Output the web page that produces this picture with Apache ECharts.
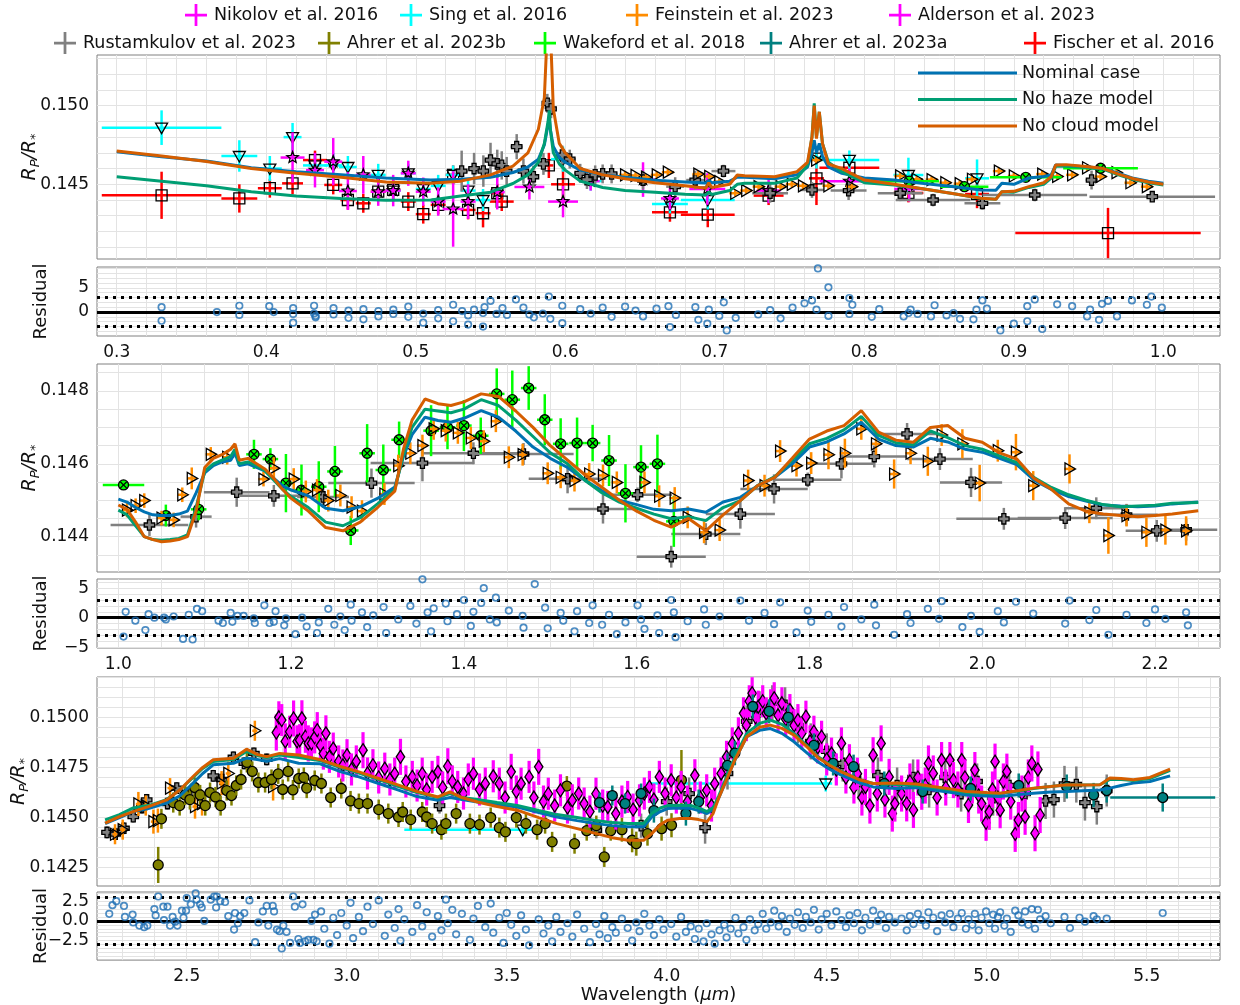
<!DOCTYPE html>
<html>
<head>
<meta charset="utf-8">
<title>Transmission spectrum fit</title>
<script src="https://cdn.jsdelivr.net/npm/echarts@6/dist/echarts.min.js"></script>
<style>html,body{margin:0;padding:0;background:#fff}#chart{width:1240px;height:1005px}</style>
</head>
<body>
<div id="chart"></div>
<script>
const FONT = 'DejaVu Sans';

// ---- tick labels ----
const x1Ticks = [0.3, 0.4, 0.5, 0.6, 0.7, 0.8, 0.9, 1.0];
const y1Ticks = [0.145, 0.150];
const r1Ticks = [0, 5];
const x2Ticks = [1.0, 1.2, 1.4, 1.6, 1.8, 2.0, 2.2];
const y2Ticks = [0.144, 0.146, 0.148];
const r2Ticks = [-5, 0, 5];
const x3Ticks = [2.5, 3.0, 3.5, 4.0, 4.5, 5.0, 5.5];
const y3Ticks = [0.1425, 0.1450, 0.1475, 0.1500];
const r3Ticks = [-2.5, 0, 2.5];

// ---- models, panel 1 ----
const p1Wave = [0.3,0.33,0.36,0.39,0.42,0.45,0.48,0.51,0.53,0.55,0.565,0.575,0.582,0.586,0.5885,0.5893,0.590,0.592,0.596,0.60,0.61,0.625,0.64,0.66,0.68,0.694,0.696,0.698,0.71,0.715,0.72,0.74,0.755,0.762,0.765,0.7665,0.768,0.7699,0.772,0.776,0.785,0.80,0.82,0.84,0.86,0.878,0.888,0.892,0.90,0.91,0.92,0.925,0.928,0.935,0.95,0.96,0.97,0.98,0.99,1.0];
const p1Nominal = [0.14707,0.14675,0.14648,0.14605,0.14580,0.14560,0.14540,0.14527,0.14532,0.14545,0.14575,0.14610,0.14660,0.14750,0.14880,0.14920,0.14850,0.14740,0.14670,0.14640,0.14590,0.14560,0.14545,0.14525,0.14515,0.14508,0.14525,0.14510,0.14520,0.14545,0.14545,0.14535,0.14560,0.14610,0.14700,0.14780,0.14700,0.14760,0.14680,0.14610,0.14570,0.14540,0.14527,0.14505,0.14485,0.14464,0.14462,0.14506,0.14500,0.14540,0.14550,0.14560,0.14623,0.14620,0.14610,0.14600,0.14570,0.14538,0.14520,0.14506];
const p1NoHaze = [0.14548,0.14520,0.14490,0.14453,0.14425,0.14410,0.14398,0.14400,0.14425,0.14450,0.14505,0.14560,0.14640,0.14760,0.14900,0.14970,0.14850,0.14700,0.14630,0.14590,0.14520,0.14480,0.14460,0.14450,0.14436,0.14432,0.14450,0.14435,0.14460,0.14500,0.14506,0.14506,0.14540,0.14620,0.14800,0.15015,0.14800,0.14960,0.14760,0.14640,0.14580,0.14510,0.14495,0.14470,0.14440,0.14411,0.14405,0.14453,0.14450,0.14480,0.14500,0.14540,0.14615,0.14615,0.14605,0.14595,0.14560,0.14530,0.14510,0.14495];
const p1NoCloud = [0.14712,0.14680,0.14645,0.14600,0.14570,0.14545,0.14515,0.14506,0.14520,0.14560,0.14615,0.14700,0.14850,0.15050,0.15600,0.16000,0.15500,0.14980,0.14760,0.14700,0.14600,0.14560,0.14535,0.14510,0.14490,0.14475,0.14510,0.14480,0.14500,0.14559,0.14555,0.14548,0.14580,0.14640,0.14800,0.15000,0.14790,0.14961,0.14760,0.14630,0.14600,0.14527,0.14500,0.14470,0.14440,0.14411,0.14405,0.14453,0.14455,0.14485,0.14510,0.14548,0.14623,0.14625,0.14612,0.14600,0.14565,0.14535,0.14515,0.14500];

// ---- models, panel 2 ----
const p2Wave = [1.0,1.01,1.02,1.03,1.04,1.05,1.06,1.07,1.08,1.09,1.10,1.11,1.12,1.13,1.135,1.14,1.15,1.16,1.17,1.18,1.19,1.2,1.22,1.24,1.26,1.28,1.30,1.32,1.33,1.34,1.355,1.37,1.385,1.40,1.42,1.44,1.46,1.48,1.50,1.52,1.54,1.56,1.58,1.60,1.62,1.64,1.66,1.68,1.70,1.72,1.74,1.76,1.78,1.80,1.82,1.84,1.86,1.88,1.90,1.92,1.94,1.96,1.98,2.0,2.02,2.04,2.06,2.08,2.10,2.12,2.14,2.16,2.18,2.2,2.22,2.25];
const p2Nominal = [0.14503,0.14495,0.14480,0.14468,0.14460,0.14458,0.14458,0.14462,0.14470,0.14520,0.14575,0.14595,0.14605,0.14610,0.14630,0.14595,0.14600,0.14590,0.14580,0.14560,0.14540,0.14528,0.14512,0.14478,0.14471,0.14482,0.14505,0.14536,0.14620,0.14680,0.14728,0.14719,0.14714,0.14725,0.14746,0.14728,0.14690,0.14646,0.14615,0.14590,0.14555,0.14526,0.14500,0.14488,0.14475,0.14471,0.14476,0.14467,0.14495,0.14508,0.14540,0.14563,0.14600,0.14646,0.14660,0.14682,0.14714,0.14668,0.14650,0.14646,0.14670,0.14660,0.14640,0.14632,0.14615,0.14598,0.14555,0.14530,0.14510,0.14498,0.14487,0.14484,0.14482,0.14484,0.14490,0.14495];
const p2NoHaze = [0.14473,0.14460,0.14430,0.14400,0.14392,0.14390,0.14392,0.14395,0.14405,0.14480,0.14580,0.14600,0.14610,0.14620,0.14640,0.14600,0.14605,0.14595,0.14580,0.14555,0.14530,0.14510,0.14480,0.14440,0.14430,0.14452,0.14490,0.14530,0.14625,0.14700,0.14750,0.14745,0.14740,0.14750,0.14776,0.14760,0.14720,0.14675,0.14630,0.14600,0.14555,0.14520,0.14495,0.14478,0.14462,0.14449,0.14455,0.14444,0.14480,0.14499,0.14540,0.14565,0.14610,0.14655,0.14670,0.14693,0.14730,0.14678,0.14658,0.14652,0.14690,0.14672,0.14650,0.14640,0.14622,0.14603,0.14562,0.14535,0.14515,0.14500,0.14488,0.14482,0.14484,0.14486,0.14492,0.14494];
const p2NoCloud = [0.14487,0.14475,0.14440,0.14400,0.14392,0.14386,0.14388,0.14392,0.14400,0.14470,0.14590,0.14615,0.14625,0.14640,0.14655,0.14610,0.14615,0.14600,0.14585,0.14560,0.14530,0.14505,0.14470,0.14425,0.14416,0.14440,0.14480,0.14525,0.14640,0.14720,0.14778,0.14765,0.14760,0.14770,0.14792,0.14785,0.14745,0.14700,0.14650,0.14610,0.14570,0.14535,0.14500,0.14470,0.14445,0.14426,0.14450,0.14416,0.14460,0.14499,0.14540,0.14563,0.14615,0.14668,0.14690,0.14705,0.14746,0.14687,0.14665,0.14659,0.14700,0.14705,0.14670,0.14659,0.14630,0.14613,0.14560,0.14530,0.14490,0.14470,0.14462,0.14458,0.14455,0.14458,0.14462,0.14471];

// ---- models, panel 3 ----
const p3Wave = [2.245,2.29,2.333,2.38,2.4375,2.48,2.52,2.55,2.583,2.646,2.687,2.72,2.75,2.79,2.85,2.915,2.98,3.038,3.10,3.162,3.22,3.285,3.323,3.36,3.409,3.47,3.533,3.60,3.657,3.72,3.78,3.83,3.879,3.928,3.953,3.98,4.0025,4.04,4.077,4.10,4.126,4.145,4.163,4.19,4.2125,4.25,4.29,4.324,4.36,4.398,4.44,4.472,4.51,4.546,4.60,4.645,4.719,4.78,4.833,4.89,4.9375,5.0,5.0416,5.10,5.146,5.20,5.25,5.30,5.354,5.385,5.42,5.458,5.51,5.573];
const p3Nominal = [0.14470,0.14500,0.14530,0.14545,0.14572,0.14610,0.14672,0.14720,0.14763,0.14771,0.14797,0.14790,0.14781,0.14794,0.14771,0.14769,0.14730,0.14703,0.14670,0.14637,0.14605,0.14587,0.14600,0.14590,0.14578,0.14565,0.14553,0.14525,0.14503,0.14485,0.14470,0.14460,0.14454,0.14454,0.14503,0.14530,0.14545,0.14548,0.14545,0.14535,0.14520,0.14540,0.14600,0.14700,0.14786,0.14903,0.14935,0.14944,0.14920,0.14878,0.14820,0.14778,0.14740,0.14712,0.14675,0.14653,0.14645,0.14650,0.14638,0.14625,0.14613,0.14608,0.14605,0.14615,0.14622,0.14628,0.14630,0.14634,0.14638,0.14647,0.14660,0.14672,0.14680,0.14708];
const p3NoHaze = [0.14489,0.14515,0.14548,0.14560,0.14590,0.14640,0.14700,0.14745,0.14780,0.14790,0.14830,0.14810,0.14800,0.14812,0.14800,0.14785,0.14750,0.14722,0.14690,0.14655,0.14625,0.14600,0.14620,0.14600,0.14590,0.14575,0.14560,0.14535,0.14515,0.14500,0.14485,0.14475,0.14470,0.14470,0.14520,0.14548,0.14560,0.14562,0.14560,0.14548,0.14530,0.14550,0.14610,0.14715,0.14800,0.14920,0.14970,0.14986,0.14965,0.14920,0.14855,0.14805,0.14765,0.14730,0.14690,0.14670,0.14665,0.14660,0.14650,0.14638,0.14625,0.14620,0.14620,0.14632,0.14645,0.14655,0.14664,0.14662,0.14664,0.14690,0.14690,0.14685,0.14695,0.14735];
const p3NoCloud = [0.14472,0.14505,0.14530,0.14555,0.14588,0.14640,0.14705,0.14750,0.14788,0.14796,0.14841,0.14815,0.14804,0.14820,0.14812,0.14790,0.14755,0.14728,0.14695,0.14662,0.14630,0.14603,0.14628,0.14600,0.14578,0.14555,0.14537,0.14500,0.14470,0.14445,0.14420,0.14400,0.14387,0.14387,0.14420,0.14465,0.14487,0.14495,0.14495,0.14490,0.14480,0.14520,0.14600,0.14700,0.14786,0.14903,0.14950,0.14961,0.14945,0.14911,0.14850,0.14800,0.14760,0.14728,0.14690,0.14670,0.14672,0.14668,0.14655,0.14642,0.14630,0.14625,0.14622,0.14635,0.14647,0.14655,0.14664,0.14662,0.14664,0.14697,0.14695,0.14689,0.14700,0.14742];

// ---- observations: [wavelength, Rp/Rs, xerr, yerr, (xerr right)] ----
const fischerP1 = [[0.330,0.1443,0.040,0.0015],[0.382,0.1441,0.012,0.0009],[0.4024,0.14475,0.008,0.0006],[0.4176,0.14506,0.007,0.0007],[0.4326,0.14654,0.008,0.0006],[0.4448,0.14496,0.006,0.0006],[0.4546,0.1440,0.005,0.0006],[0.4649,0.14379,0.005,0.0006],[0.4749,0.14453,0.005,0.0006],[0.4849,0.14464,0.005,0.0006],[0.495,0.1439,0.005,0.0006],[0.505,0.1431,0.005,0.0006],[0.515,0.14369,0.005,0.0006],[0.525,0.1456,0.005,0.0006],[0.535,0.14337,0.005,0.0006],[0.545,0.14316,0.005,0.0009],[0.5545,0.14443,0.004,0.0006],[0.5575,0.1439,0.008,0.0006],[0.589,0.1462,0.003,0.0008],[0.5985,0.1450,0.008,0.0011],[0.670,0.14322,0.012,0.0006],[0.6953,0.14307,0.018,0.0008],[0.736,0.14428,0.010,0.0006],[0.768,0.14538,0.005,0.0017],[0.790,0.14605,0.020,0.0006],[0.8295,0.14445,0.010,0.0006],[0.8754,0.14438,0.008,0.0009],[0.963,0.1419,0.062,0.0016]];
const nikolovP1 = [[0.4176,0.1467,0.008,0.0016],[0.4326,0.1459,0.006,0.0011],[0.4448,0.14644,0.006,0.0015],[0.4546,0.14457,0.006,0.0012],[0.4649,0.1456,0.005,0.0012],[0.4749,0.14453,0.005,0.0009],[0.4849,0.1446,0.005,0.0010],[0.495,0.1457,0.005,0.0008],[0.505,0.14453,0.005,0.0009],[0.515,0.1439,0.005,0.0009],[0.525,0.14343,0.007,0.0024],[0.535,0.1439,0.005,0.0011],[0.5545,0.1445,0.005,0.0011],[0.576,0.14483,0.010,0.0008],[0.5985,0.1439,0.010,0.0010],[0.617,0.1452,0.006,0.0006],[0.652,0.1453,0.008,0.0011],[0.670,0.1441,0.006,0.0007],[0.695,0.1447,0.012,0.0010],[0.736,0.1446,0.008,0.0008],[0.790,0.1452,0.020,0.0008],[0.830,0.1447,0.010,0.0008]];
const singP1 = [[0.330,0.1486,0.040,0.0011],[0.382,0.1468,0.012,0.0010],[0.4024,0.1460,0.008,0.0008],[0.4176,0.1480,0.006,0.0009],[0.4326,0.1462,0.008,0.0006],[0.4448,0.1462,0.006,0.0008],[0.4546,0.1461,0.006,0.0007],[0.4749,0.1456,0.005,0.0007],[0.4849,0.1446,0.005,0.0007],[0.495,0.1457,0.005,0.0006],[0.505,0.1447,0.005,0.0007],[0.515,0.1449,0.005,0.0007],[0.525,0.1456,0.005,0.0006],[0.535,0.1446,0.005,0.0007],[0.545,0.1440,0.005,0.0007],[0.5985,0.1466,0.008,0.0008],[0.617,0.1452,0.008,0.0006],[0.670,0.14375,0.012,0.0006],[0.6953,0.1440,0.018,0.0006],[0.768,0.1467,0.005,0.0007],[0.790,0.14655,0.020,0.0006],[0.8295,0.14559,0.010,0.0011],[0.8754,0.14538,0.008,0.0012]];
const rustamP1 = [[0.5307,0.14584,0.004,0.0013],[0.539,0.14600,0.004,0.0010],[0.5452,0.14584,0.004,0.0010],[0.550,0.14654,0.004,0.0011],[0.5545,0.14630,0.003,0.0009],[0.5575,0.14620,0.003,0.0009],[0.5608,0.14584,0.003,0.0009],[0.5675,0.14739,0.004,0.0008],[0.572,0.14584,0.003,0.0008],[0.5787,0.14548,0.003,0.0007],[0.5854,0.14630,0.003,0.0007],[0.5880,0.15015,0.002,0.0006],[0.5905,0.14980,0.002,0.0006],[0.598,0.14686,0.004,0.0006],[0.603,0.14660,0.004,0.0006],[0.610,0.14570,0.004,0.0006],[0.6145,0.14530,0.004,0.0006],[0.620,0.14560,0.004,0.0006],[0.625,0.14566,0.004,0.0006],[0.631,0.14566,0.004,0.0006],[0.652,0.14527,0.006,0.0006],[0.6735,0.14485,0.006,0.0006],[0.6869,0.14527,0.006,0.0006],[0.7058,0.14584,0.008,0.0004],[0.737,0.14443,0.012,0.0006],[0.765,0.14464,0.008,0.0005],[0.7895,0.14460,0.012,0.0006],[0.824,0.14443,0.015,0.0005],[0.846,0.14400,0.025,0.0004],[0.879,0.14379,0.012,0.0004],[0.914,0.14432,0.035,0.0004],[0.952,0.14527,0.004,0.0006],[0.9926,0.14421,0.042,0.0003]];
const feinsteinP1 = [[0.640,0.14560,0.004,0.0002],[0.647,0.14556,0.004,0.0002],[0.654,0.14545,0.004,0.0002],[0.6612,0.14560,0.004,0.0002],[0.6686,0.14577,0.004,0.0002],[0.689,0.14565,0.004,0.0002],[0.6963,0.14550,0.004,0.0002],[0.703,0.14517,0.004,0.0002],[0.7137,0.14443,0.004,0.0002],[0.721,0.14460,0.004,0.0002],[0.7293,0.14485,0.004,0.0002],[0.744,0.14485,0.004,0.0002],[0.7515,0.14500,0.004,0.0002],[0.759,0.14490,0.004,0.0002],[0.7678,0.14654,0.004,0.0002],[0.776,0.14490,0.004,0.0002],[0.7917,0.14485,0.004,0.0002],[0.824,0.14553,0.004,0.0002],[0.835,0.14532,0.004,0.0002],[0.845,0.14530,0.004,0.0002],[0.8542,0.14510,0.004,0.0002],[0.8638,0.14504,0.004,0.0002],[0.872,0.14532,0.004,0.0002],[0.890,0.14584,0.004,0.0002],[0.900,0.14553,0.004,0.0002],[0.919,0.14565,0.004,0.0002],[0.929,0.14550,0.004,0.0002],[0.939,0.14560,0.004,0.0002],[0.949,0.14605,0.004,0.0002],[0.958,0.14549,0.004,0.0002],[0.9687,0.14574,0.004,0.0002],[0.978,0.14510,0.004,0.0002],[0.989,0.14485,0.004,0.0002]];
const wakefordP1 = [[0.830,0.14520,0.020,0.0002],[0.867,0.14485,0.016,0.0002],[0.908,0.14544,0.024,0.0002],[0.958,0.14602,0.025,0.0002]];

const wakefordP2 = [[1.006,0.14542,0.024,0.0001],[1.055,0.14458,0.009,0.0003],[1.093,0.14475,0.009,0.0003],[1.157,0.14626,0.009,0.0004],[1.176,0.14613,0.009,0.0003],[1.194,0.14547,0.009,0.0008],[1.212,0.14528,0.009,0.0007],[1.232,0.14537,0.009,0.0007],[1.2507,0.14579,0.009,0.0007],[1.269,0.14417,0.009,0.0004],[1.288,0.14629,0.009,0.0008],[1.3067,0.14583,0.009,0.0007],[1.325,0.14666,0.009,0.0005],[1.362,0.14691,0.009,0.0007],[1.381,0.14700,0.009,0.0006],[1.400,0.14705,0.009,0.0007],[1.4195,0.14677,0.009,0.0005],[1.438,0.14792,0.009,0.0007],[1.456,0.14776,0.009,0.0008],[1.475,0.14808,0.009,0.0006],[1.4936,0.14721,0.009,0.0007],[1.512,0.14655,0.009,0.0007],[1.531,0.14657,0.009,0.0007],[1.549,0.14657,0.009,0.0005],[1.568,0.14609,0.009,0.0007],[1.587,0.14519,0.009,0.0008],[1.605,0.14591,0.009,0.0006],[1.624,0.14600,0.009,0.0008],[1.643,0.14442,0.009,0.0007]];
const feinsteinP2 = [[1.010,0.14473,0.005,0.0002],[1.020,0.14485,0.005,0.0002],[1.030,0.14499,0.005,0.0002],[1.050,0.14451,0.005,0.0002],[1.064,0.14446,0.005,0.0002],[1.074,0.14515,0.005,0.0002],[1.085,0.14560,0.005,0.0003],[1.107,0.14626,0.006,0.0002],[1.126,0.14618,0.006,0.0002],[1.168,0.14558,0.006,0.0002],[1.180,0.14588,0.006,0.0003],[1.203,0.14558,0.006,0.0003],[1.217,0.14524,0.006,0.0003],[1.230,0.14528,0.006,0.0003],[1.243,0.14499,0.006,0.0003],[1.257,0.14513,0.006,0.0003],[1.270,0.14481,0.006,0.0003],[1.282,0.14470,0.006,0.0003],[1.308,0.14517,0.006,0.0003],[1.324,0.14595,0.006,0.0003],[1.338,0.14629,0.006,0.0003],[1.352,0.14650,0.006,0.0003],[1.365,0.14696,0.006,0.0003],[1.379,0.14691,0.006,0.0003],[1.393,0.14685,0.006,0.0003],[1.408,0.14671,0.006,0.0003],[1.423,0.14662,0.006,0.0003],[1.437,0.14717,0.006,0.0003],[1.452,0.14618,0.006,0.0003],[1.468,0.14625,0.006,0.0003],[1.497,0.14574,0.006,0.0003],[1.512,0.14563,0.006,0.0003],[1.528,0.14554,0.006,0.0003],[1.545,0.14572,0.006,0.0003],[1.561,0.14568,0.006,0.0003],[1.577,0.14549,0.006,0.0003],[1.609,0.14549,0.006,0.0003],[1.626,0.14511,0.006,0.0003],[1.644,0.14506,0.006,0.0003],[1.659,0.14453,0.006,0.0003],[1.678,0.14412,0.006,0.0003],[1.696,0.14418,0.006,0.0003],[1.729,0.14554,0.006,0.0003],[1.748,0.14540,0.006,0.0003],[1.766,0.14635,0.006,0.0003],[1.785,0.14595,0.006,0.0003],[1.802,0.14602,0.006,0.0003],[1.822,0.14625,0.006,0.0004],[1.841,0.14629,0.006,0.0004],[1.860,0.14696,0.006,0.0003],[1.877,0.14655,0.006,0.0003],[1.898,0.14572,0.006,0.0004],[1.917,0.14629,0.006,0.0003],[1.937,0.14607,0.006,0.0004],[1.953,0.14679,0.006,0.0003],[1.977,0.14655,0.006,0.0004],[1.997,0.14547,0.006,0.0005],[2.018,0.14636,0.006,0.0003],[2.039,0.14632,0.006,0.0005],[2.059,0.14540,0.006,0.0004],[2.101,0.14586,0.006,0.0004],[2.124,0.14467,0.006,0.0003],[2.146,0.14403,0.006,0.0005],[2.167,0.14458,0.006,0.0003],[2.190,0.14412,0.006,0.0004],[2.212,0.14418,0.006,0.0004],[2.236,0.14416,0.006,0.0004]];
const rustamP2 = [[1.036,0.14432,0.045,0.0003],[1.090,0.14455,0.018,0.0003],[1.137,0.14522,0.038,0.0004],[1.180,0.14512,0.040,0.0003],[1.237,0.14509,0.030,0.0003],[1.293,0.14547,0.050,0.0004],[1.352,0.14602,0.060,0.0005],[1.411,0.14629,0.060,0.0003],[1.469,0.14627,0.058,0.0003],[1.520,0.14559,0.045,0.0004],[1.561,0.14476,0.040,0.0004],[1.601,0.14515,0.040,0.0002],[1.640,0.14345,0.040,0.0003],[1.680,0.14407,0.040,0.0003],[1.720,0.14462,0.040,0.0004],[1.759,0.14531,0.039,0.0004],[1.798,0.14556,0.039,0.0002],[1.837,0.14600,0.039,0.0004],[1.875,0.14620,0.038,0.0003],[1.913,0.14682,0.038,0.0003],[1.951,0.14613,0.038,0.0003],[1.987,0.14549,0.036,0.0004],[2.025,0.14449,0.055,0.0003],[2.096,0.14451,0.055,0.0003],[2.132,0.14478,0.036,0.0003],[2.167,0.14460,0.036,0.0003],[2.202,0.14416,0.036,0.0003],[2.236,0.14419,0.036,0.0003]];

const aldersonP3 = [[2.780,0.14924,0,0.0009],[2.788,0.15000,0,0.0008],[2.797,0.14986,0,0.0008],[2.808,0.14880,0,0.0009],[2.822,0.14928,0,0.0008],[2.834,0.14994,0,0.0009],[2.845,0.14880,0,0.0008],[2.853,0.14886,0,0.0008],[2.860,0.14995,0,0.0009],[2.871,0.14903,0,0.0008],[2.880,0.14870,0,0.0009],[2.890,0.14870,0,0.0008],[2.900,0.14900,0,0.0008],[2.908,0.14936,0,0.0009],[2.918,0.14860,0,0.0008],[2.927,0.14819,0,0.0008],[2.935,0.14920,0,0.0009],[2.946,0.14803,0,0.0008],[2.958,0.14844,0,0.0008],[2.975,0.14780,0,0.0008],[2.988,0.14760,0,0.0008],[3.001,0.14811,0,0.0008],[3.015,0.14740,0,0.0008],[3.030,0.14780,0,0.0008],[3.051,0.14836,0,0.0009],[3.065,0.14720,0,0.0008],[3.082,0.14761,0,0.0008],[3.100,0.14700,0,0.0008],[3.119,0.14744,0,0.0008],[3.135,0.14690,0,0.0008],[3.150,0.14719,0,0.0008],[3.168,0.14803,0,0.0009],[3.185,0.14680,0,0.0008],[3.205,0.14703,0,0.0008],[3.220,0.14660,0,0.0008],[3.236,0.14719,0,0.0008],[3.250,0.14640,0,0.0008],[3.267,0.14703,0,0.0008],[3.285,0.14728,0,0.0008],[3.300,0.14650,0,0.0008],[3.316,0.14756,0,0.0009],[3.330,0.14680,0,0.0008],[3.347,0.14653,0,0.0008],[3.365,0.14620,0,0.0008],[3.380,0.14690,0,0.0008],[3.396,0.14719,0,0.0008],[3.415,0.14640,0,0.0008],[3.433,0.14669,0,0.0008],[3.458,0.14706,0,0.0008],[3.477,0.14669,0,0.0008],[3.495,0.14600,0,0.0008],[3.514,0.14728,0,0.0009],[3.530,0.14630,0,0.0008],[3.545,0.14669,0,0.0008],[3.570,0.14703,0,0.0008],[3.585,0.14600,0,0.0008],[3.600,0.14753,0,0.0009],[3.615,0.14580,0,0.0008],[3.630,0.14619,0,0.0008],[3.650,0.14560,0,0.0008],[3.668,0.14636,0,0.0008],[3.690,0.14550,0,0.0008],[3.705,0.14586,0,0.0008],[3.725,0.14620,0,0.0008],[3.742,0.14570,0,0.0008],[3.760,0.14530,0,0.0008],[3.779,0.14619,0,0.0008],[3.800,0.14560,0,0.0008],[3.816,0.14553,0,0.0008],[3.841,0.14520,0,0.0008],[3.860,0.14580,0,0.0008],[3.878,0.14603,0,0.0008],[3.895,0.14540,0,0.0008],[3.915,0.14586,0,0.0008],[3.930,0.14620,0,0.0008],[3.946,0.14653,0,0.0008],[3.960,0.14590,0,0.0008],[3.977,0.14703,0,0.0008],[3.995,0.14620,0,0.0008],[4.014,0.14686,0,0.0008],[4.030,0.14600,0,0.0008],[4.045,0.14653,0,0.0008],[4.065,0.14580,0,0.0008],[4.088,0.14711,0,0.0008],[4.105,0.14600,0,0.0008],[4.125,0.14636,0,0.0008],[4.140,0.14560,0,0.0008],[4.150,0.14669,0,0.0008],[4.170,0.14720,0,0.0008],[4.187,0.14803,0,0.0008],[4.205,0.14870,0,0.0008],[4.224,0.14920,0,0.0008],[4.240,0.15020,0,0.0008],[4.249,0.14961,0,0.0008],[4.258,0.15080,0,0.0008],[4.267,0.15120,0,0.0008],[4.278,0.15000,0,0.0008],[4.286,0.15053,0,0.0008],[4.300,0.15080,0,0.0008],[4.311,0.15020,0,0.0008],[4.325,0.15060,0,0.0008],[4.336,0.15095,0,0.0008],[4.348,0.15010,0,0.0008],[4.360,0.15070,0,0.0008],[4.372,0.14990,0,0.0008],[4.385,0.15036,0,0.0008],[4.398,0.14960,0,0.0008],[4.410,0.14986,0,0.0008],[4.422,0.14920,0,0.0008],[4.435,0.15003,0,0.0008],[4.448,0.14880,0,0.0008],[4.460,0.14928,0,0.0008],[4.472,0.14850,0,0.0008],[4.484,0.14903,0,0.0008],[4.500,0.14790,0,0.0008],[4.515,0.14819,0,0.0008],[4.530,0.14740,0,0.0008],[4.546,0.14870,0,0.0008],[4.560,0.14700,0,0.0008],[4.571,0.14786,0,0.0008],[4.585,0.14650,0,0.0008],[4.596,0.14719,0,0.0008],[4.610,0.14600,0,0.0009],[4.621,0.14653,0,0.0009],[4.635,0.14560,0,0.0009],[4.645,0.14811,0,0.0009],[4.658,0.14620,0,0.0009],[4.670,0.14870,0,0.0009],[4.682,0.14590,0,0.0009],[4.695,0.14703,0,0.0009],[4.705,0.14520,0,0.0009],[4.713,0.14570,0,0.0009],[4.734,0.14620,0,0.0009],[4.750,0.14571,0,0.0009],[4.760,0.14680,0,0.0009],[4.771,0.14538,0,0.0009],[4.785,0.14700,0,0.0009],[4.797,0.14629,0,0.0009],[4.808,0.14660,0,0.0009],[4.818,0.14770,0,0.0009],[4.833,0.14720,0,0.0009],[4.845,0.14600,0,0.0009],[4.859,0.14787,0,0.0009],[4.872,0.14650,0,0.0009],[4.885,0.14787,0,0.0009],[4.896,0.14687,0,0.0009],[4.910,0.14640,0,0.0009],[4.922,0.14787,0,0.0009],[4.932,0.14700,0,0.0009],[4.943,0.14563,0,0.0009],[4.955,0.14660,0,0.0009],[4.963,0.14737,0,0.0009],[4.975,0.14610,0,0.0009],[4.984,0.14570,0,0.0009],[4.998,0.14474,0,0.0009],[5.008,0.14529,0,0.0009],[5.018,0.14640,0,0.0009],[5.026,0.14779,0,0.0009],[5.035,0.14600,0,0.0009],[5.042,0.14537,0,0.0009],[5.052,0.14680,0,0.0009],[5.063,0.14729,0,0.0009],[5.075,0.14580,0,0.0009],[5.089,0.14419,0,0.0009],[5.099,0.14488,0,0.0009],[5.110,0.14620,0,0.0009],[5.120,0.14504,0,0.0009],[5.130,0.14700,0,0.0009],[5.141,0.14770,0,0.0009],[5.151,0.14422,0,0.0009],[5.160,0.14740,0,0.0009],[5.167,0.14513,0,0.0009]];
const ahrerBP3 = [[2.411,0.14264,0,0.0009],[2.421,0.14494,0,0.0005],[2.458,0.14575,0,0.0005],[2.478,0.14560,0,0.0005],[2.495,0.14613,0,0.0005],[2.510,0.14590,0,0.0005],[2.525,0.14650,0,0.0005],[2.542,0.14613,0,0.0005],[2.558,0.14560,0,0.0005],[2.573,0.14625,0,0.0005],[2.590,0.14603,0,0.0005],[2.606,0.14560,0,0.0005],[2.625,0.14635,0,0.0005],[2.640,0.14610,0,0.0005],[2.655,0.14660,0,0.0005],[2.670,0.14690,0,0.0005],[2.688,0.14775,0,0.0005],[2.705,0.14730,0,0.0005],[2.724,0.14675,0,0.0005],[2.745,0.14675,0,0.0005],[2.765,0.14690,0,0.0005],[2.786,0.14718,0,0.0005],[2.800,0.14640,0,0.0005],[2.817,0.14730,0,0.0005],[2.832,0.14638,0,0.0005],[2.850,0.14695,0,0.0005],[2.866,0.14700,0,0.0005],[2.875,0.14647,0,0.0005],[2.900,0.14685,0,0.0005],[2.921,0.14670,0,0.0005],[2.950,0.14600,0,0.0005],[2.983,0.14645,0,0.0005],[3.012,0.14583,0,0.0005],[3.038,0.14570,0,0.0005],[3.065,0.14570,0,0.0005],[3.100,0.14540,0,0.0005],[3.130,0.14520,0,0.0005],[3.162,0.14503,0,0.0005],[3.175,0.14528,0,0.0005],[3.200,0.14490,0,0.0005],[3.236,0.14528,0,0.0005],[3.250,0.14503,0,0.0005],[3.267,0.14470,0,0.0005],[3.296,0.14440,0,0.0005],[3.310,0.14470,0,0.0005],[3.342,0.14520,0,0.0005],[3.385,0.14470,0,0.0005],[3.415,0.14465,0,0.0005],[3.450,0.14500,0,0.0005],[3.477,0.14450,0,0.0005],[3.496,0.14429,0,0.0005],[3.530,0.14500,0,0.0005],[3.560,0.14470,0,0.0005],[3.595,0.14440,0,0.0005],[3.620,0.14470,0,0.0005],[3.642,0.14379,0,0.0005],[3.688,0.14657,0,0.0005],[3.712,0.14370,0,0.0005],[3.750,0.14435,0,0.0005],[3.780,0.14460,0,0.0005],[3.805,0.14304,0,0.0005],[3.825,0.14435,0,0.0005],[3.860,0.14440,0,0.0006],[3.892,0.14387,0,0.0006],[3.905,0.14370,0,0.0006],[3.940,0.14420,0,0.0006],[3.984,0.14445,0,0.0006],[4.015,0.14462,0,0.0006],[4.046,0.14687,0,0.0015]];
const rustamP3 = [[2.251,0.14426,0.012,0.0003],[2.277,0.14418,0.012,0.0003],[2.304,0.14447,0.012,0.0003],[2.333,0.14505,0.012,0.0003],[2.360,0.14550,0.012,0.0003],[2.375,0.14588,0.012,0.0003],[2.440,0.14570,0.012,0.0003],[2.469,0.14647,0.012,0.0003],[2.500,0.14620,0.012,0.0003],[2.540,0.14612,0.012,0.0003],[2.583,0.14708,0.012,0.0003],[2.610,0.14690,0.012,0.0003],[2.646,0.14801,0.012,0.0003],[2.680,0.14770,0.012,0.0003],[2.710,0.14820,0.012,0.0003],[2.750,0.14790,0.012,0.0003],[3.290,0.14560,0.010,0.0004],[3.780,0.14437,0.010,0.0004],[3.920,0.14460,0.010,0.0006],[4.000,0.14580,0.010,0.0007],[4.070,0.14620,0.010,0.0008],[4.120,0.14450,0.010,0.0008],[4.190,0.14720,0.010,0.0008],[4.250,0.14980,0.010,0.0008],[4.290,0.15040,0.010,0.0009],[4.330,0.15070,0.010,0.0009],[4.370,0.15060,0.010,0.0009],[4.410,0.14960,0.010,0.0009],[4.450,0.14880,0.010,0.0009],[4.500,0.14830,0.010,0.0009],[4.550,0.14770,0.010,0.0009],[4.600,0.14680,0.010,0.0009],[4.660,0.14710,0.010,0.0009],[4.720,0.14660,0.010,0.0009],[4.770,0.14700,0.010,0.0009],[4.820,0.14640,0.010,0.0009],[4.870,0.14700,0.010,0.0009],[4.920,0.14620,0.010,0.0009],[4.970,0.14680,0.010,0.0009],[5.020,0.14600,0.010,0.0009],[5.070,0.14660,0.010,0.0009],[5.120,0.14620,0.010,0.0009],[5.184,0.14583,0.010,0.0009],[5.210,0.14590,0.010,0.0009],[5.243,0.14668,0.010,0.0009],[5.280,0.14665,0.010,0.0009],[5.307,0.14575,0.010,0.0009],[5.344,0.14555,0.010,0.0009],[5.375,0.14635,0.010,0.0008]];
const feinsteinP3 = [[2.276,0.14417,0.008,0.0005],[2.300,0.14440,0.008,0.0005],[2.349,0.14568,0.008,0.0006],[2.372,0.14560,0.008,0.0005],[2.396,0.14480,0.008,0.0006],[2.410,0.14485,0.008,0.0006],[2.448,0.14647,0.008,0.0005],[2.526,0.14555,0.008,0.0006],[2.548,0.14570,0.008,0.0006],[2.609,0.14672,0.008,0.0006],[2.630,0.14720,0.008,0.0006],[2.713,0.14933,0.008,0.0005],[2.770,0.14655,0.008,0.0007]];
const ahrerAP3 = [[3.790,0.14575,0,0.0005],[3.830,0.14610,0,0.0005],[3.870,0.14570,0,0.0005],[3.920,0.14620,0,0.0005],[3.960,0.14535,0,0.0006],[4.060,0.14520,0,0.0006],[4.100,0.14580,0,0.0006],[4.190,0.14760,0,0.0006],[4.213,0.14821,0,0.0006],[4.269,0.15054,0,0.0006],[4.320,0.15030,0,0.0006],[4.380,0.15000,0,0.0006],[4.460,0.14860,0,0.0006],[4.520,0.14770,0,0.0006],[4.584,0.14754,0,0.0006],[4.680,0.14670,0,0.0006],[4.800,0.14630,0,0.0006],[4.950,0.14645,0,0.0006],[5.100,0.14660,0,0.0006],[5.250,0.14655,0,0.0006],[5.334,0.14613,0,0.0006],[5.375,0.14635,0,0.0006],[5.550,0.14600,0.164,0.0007]];
const singP3 = [[3.550,0.14440,0.370,0.0003,0.03],[4.497,0.14670,0.560,0.0004,0.02]];

// ---- residuals: [wavelength, residual] ----
const resP1 = [[0.33,1.0],[0.33,-1.8],[0.367,0.0],[0.382,1.3],[0.382,-0.6],[0.402,1.2],[0.405,0.0],[0.418,0.8],[0.418,-0.4],[0.418,-2.2],[0.432,1.3],[0.432,-0.3],[0.433,-0.8],[0.433,-1.1],[0.445,0.8],[0.445,-0.5],[0.455,0.3],[0.455,-1.2],[0.465,0.6],[0.465,-1.5],[0.475,0.2],[0.475,-0.9],[0.485,0.5],[0.485,-0.4],[0.495,1.1],[0.495,-1.0],[0.505,-0.3],[0.505,-2.2],[0.515,0.4],[0.515,-1.3],[0.525,1.5],[0.525,-1.9],[0.531,0.2],[0.535,-0.7],[0.535,-2.6],[0.539,0.5],[0.545,-0.2],[0.545,-3.0],[0.546,1.0],[0.55,2.3],[0.554,-0.4],[0.558,0.8],[0.561,-0.6],[0.567,2.6],[0.572,0.9],[0.576,-0.5],[0.579,-1.1],[0.585,-0.3],[0.589,3.2],[0.59,-1.4],[0.598,1.3],[0.598,-2.3],[0.61,0.6],[0.617,-0.3],[0.625,0.9],[0.631,-1.0],[0.64,1.1],[0.647,0.3],[0.652,-0.9],[0.661,0.7],[0.669,1.2],[0.670,-3.1],[0.674,-0.6],[0.687,1.0],[0.689,-1.6],[0.695,-2.4],[0.696,0.5],[0.703,-0.8],[0.706,2.0],[0.708,-3.8],[0.714,-1.2],[0.729,-0.5],[0.737,0.4],[0.744,-1.3],[0.752,0.9],[0.76,1.8],[0.765,2.4],[0.768,0.5],[0.769,9.0],[0.776,5.1],[0.776,-0.8],[0.79,2.9],[0.79,-0.4],[0.792,1.5],[0.805,-1.0],[0.81,0.6],[0.8263,-0.9],[0.8296,-0.2],[0.831,0.5],[0.8357,-0.4],[0.8446,-0.9],[0.847,1.4],[0.855,-0.7],[0.8597,-0.2],[0.864,-1.4],[0.873,-1.5],[0.875,0.5],[0.879,2.4],[0.882,0.7],[0.891,-3.8],[0.900,-2.4],[0.909,-1.9],[0.909,1.2],[0.914,2.6],[0.919,-3.5],[0.929,1.6],[0.939,1.2],[0.949,-0.9],[0.951,0.5],[0.957,-1.6],[0.959,1.7],[0.963,2.3],[0.969,-0.9],[0.979,2.4],[0.989,1.5],[0.992,3.2],[0.999,0.9]];
const resP2 = [[1.006,-3.2],[1.0085,1.0],[1.0197,-0.5],[1.0313,-2.1],[1.035,0.6],[1.0417,0.0],[1.053,0.0],[1.055,-0.3],[1.064,0.2],[1.0749,-3.6],[1.0815,0.5],[1.086,-3.7],[1.091,1.5],[1.097,1.1],[1.108,-5.2],[1.116,-0.5],[1.121,-0.9],[1.13,0.8],[1.132,-0.7],[1.138,0.3],[1.145,0.3],[1.1568,-0.1],[1.158,-0.9],[1.169,2.1],[1.175,-0.9],[1.18,-0.7],[1.182,1.1],[1.192,-1.3],[1.194,-0.1],[1.205,-2.8],[1.2127,0.0],[1.218,-1.5],[1.230,-2.6],[1.232,-0.8],[1.243,1.5],[1.250,-1.2],[1.257,0.2],[1.262,-2.1],[1.269,2.2],[1.270,-0.5],[1.282,0.9],[1.288,-1.6],[1.295,0.4],[1.307,1.8],[1.31,-2.6],[1.324,-0.3],[1.338,2.0],[1.345,-1.0],[1.352,6.5],[1.358,0.9],[1.362,-2.3],[1.365,1.6],[1.379,2.4],[1.381,-0.6],[1.392,0.6],[1.40,3.0],[1.408,-1.4],[1.411,1.0],[1.42,2.5],[1.423,5.0],[1.430,-0.3],[1.437,3.4],[1.438,-0.8],[1.452,1.2],[1.468,0.3],[1.469,-1.7],[1.482,5.7],[1.494,1.7],[1.497,-1.8],[1.512,0.8],[1.515,-0.5],[1.528,-2.3],[1.531,1.1],[1.545,-0.9],[1.549,2.1],[1.56,-1.2],[1.568,0.5],[1.577,-2.8],[1.587,-0.8],[1.601,2.1],[1.605,-0.3],[1.609,-1.9],[1.624,0.4],[1.626,-2.6],[1.64,3.0],[1.643,0.9],[1.645,-3.3],[1.659,-0.6],[1.678,1.4],[1.68,-1.2],[1.696,0.2],[1.72,2.9],[1.73,-0.5],[1.748,0.8],[1.759,-1.1],[1.766,2.6],[1.785,-2.5],[1.798,1.2],[1.802,-0.7],[1.822,0.5],[1.837,-1.5],[1.84,1.8],[1.86,-0.3],[1.875,2.2],[1.877,-1.3],[1.898,-2.9],[1.913,0.6],[1.917,-0.9],[1.937,1.5],[1.95,-0.2],[1.953,2.8],[1.977,-1.6],[1.987,0.3],[1.997,-2.4],[2.018,1.1],[2.025,-0.8],[2.039,2.7],[2.059,0.7],[2.096,-1.0],[2.101,2.9],[2.124,-0.4],[2.132,1.3],[2.146,-2.9],[2.167,0.5],[2.19,-0.9],[2.2,1.4],[2.212,-0.2],[2.236,0.9],[2.238,-1.3]];
const resP3 = [[2.258,0.9],[2.268,2.0],[2.28,2.5],[2.304,1.9],[2.307,0.5],[2.331,0.8],[2.333,-0.2],[2.352,-0.6],[2.367,-0.8],[2.377,-0.6],[2.399,1.5],[2.403,0.7],[2.411,3.1],[2.427,1.8],[2.429,0.1],[2.44,1.8],[2.448,-0.6],[2.456,0.5],[2.464,-0.1],[2.471,-0.6],[2.485,1.3],[2.49,0.4],[2.498,1.3],[2.5,2.9],[2.513,2.1],[2.528,3.5],[2.531,2.7],[2.542,2.1],[2.547,1.7],[2.555,0.0],[2.575,2.7],[2.586,3.1],[2.592,1.7],[2.594,3.1],[2.605,2.5],[2.62,2.4],[2.63,0.6],[2.648,-1.1],[2.651,1.0],[2.66,-0.3],[2.667,0.6],[2.68,1.0],[2.696,2.6],[2.714,-2.7],[2.724,-0.2],[2.738,1.2],[2.75,1.9],[2.755,-0.6],[2.769,1.9],[2.773,1.2],[2.782,-1.1],[2.79,-1.3],[2.797,-3.5],[2.802,-0.6],[2.812,-1.4],[2.823,-2.8],[2.833,3.1],[2.838,1.8],[2.849,-2.3],[2.854,-2.8],[2.862,2.1],[2.87,-2.6],[2.88,-2.4],[2.89,0.0],[2.896,-2.4],[2.901,0.8],[2.906,-2.6],[2.92,1.2],[2.93,-1.0],[2.946,-2.9],[2.958,0.4],[2.97,-1.8],[2.983,1.0],[3.0,-0.6],[3.012,2.3],[3.02,-2.2],[3.038,0.5],[3.051,-1.3],[3.065,1.8],[3.082,-0.4],[3.1,2.6],[3.119,-1.9],[3.13,0.8],[3.15,-0.9],[3.162,1.5],[3.168,-2.5],[3.18,0.2],[3.205,-1.4],[3.22,2.0],[3.236,-0.7],[3.25,1.1],[3.267,-2.0],[3.285,0.6],[3.296,-1.2],[3.31,2.7],[3.316,-0.3],[3.33,1.4],[3.342,-1.7],[3.36,0.9],[3.385,-2.4],[3.396,0.3],[3.41,1.9],[3.433,-0.8],[3.45,2.2],[3.458,-1.5],[3.477,0.4],[3.49,-2.8],[3.5,1.0],[3.514,-0.5],[3.53,-1.9],[3.545,0.7],[3.56,-1.1],[3.57,-3.1],[3.6,0.2],[3.615,-1.6],[3.63,-0.6],[3.642,-2.6],[3.655,0.5],[3.668,-1.4],[3.69,-0.3],[3.705,-2.0],[3.72,0.8],[3.742,-1.0],[3.76,-2.7],[3.779,-0.4],[3.79,-1.7],[3.805,0.6],[3.816,-2.2],[3.83,-0.8],[3.841,-1.5],[3.86,0.3],[3.878,-0.9],[3.892,-2.5],[3.905,-0.2],[3.915,-1.3],[3.93,0.9],[3.946,-0.6],[3.96,-1.8],[3.977,0.2],[3.99,-1.1],[4.014,-0.4],[4.03,-2.0],[4.045,0.5],[4.06,-1.4],[4.075,-0.7],[4.088,-2.3],[4.1,-1.0],[4.115,-2.6],[4.125,-0.3],[4.14,-1.7],[4.15,-2.9],[4.165,-1.2],[4.18,-0.5],[4.187,-2.1],[4.2,-1.0],[4.215,0.4],[4.224,-1.6],[4.24,-0.8],[4.249,-2.4],[4.26,0.2],[4.275,-1.2],[4.286,-0.4],[4.3,0.9],[4.311,-1.0],[4.325,-0.2],[4.336,1.3],[4.35,-0.7],[4.36,0.6],[4.375,-1.4],[4.385,0.3],[4.4,-0.5],[4.41,1.1],[4.425,-0.9],[4.435,0.5],[4.45,-0.2],[4.46,1.4],[4.475,-1.1],[4.484,0.2],[4.5,0.9],[4.515,-0.6],[4.53,1.2],[4.546,0.1],[4.56,-0.8],[4.571,0.7],[4.585,-0.3],[4.596,1.0],[4.61,-1.2],[4.621,0.4],[4.635,-0.5],[4.645,1.3],[4.66,0.0],[4.67,0.8],[4.685,-0.9],[4.695,0.5],[4.713,-0.2],[4.734,0.3],[4.75,-1.2],[4.76,0.6],[4.771,-0.4],[4.785,0.9],[4.797,0.1],[4.81,-0.6],[4.818,1.1],[4.833,0.4],[4.845,-1.3],[4.859,0.7],[4.87,-0.2],[4.885,0.9],[4.896,-0.8],[4.91,0.3],[4.922,1.0],[4.935,-1.0],[4.943,0.2],[4.955,-0.5],[4.963,0.9],[4.975,-1.2],[4.984,0.4],[4.998,1.2],[5.008,-0.3],[5.02,0.8],[5.026,-1.0],[5.035,0.5],[5.042,1.1],[5.055,-0.6],[5.063,0.3],[5.075,-1.4],[5.089,1.3],[5.099,0.7],[5.11,-0.2],[5.12,1.2],[5.13,-0.5],[5.141,1.5],[5.151,-1.0],[5.16,1.4],[5.167,0.2],[5.184,0.6],[5.2,-0.3],[5.243,0.5],[5.26,-0.9],[5.29,0.4],[5.307,-0.1],[5.334,0.6],[5.344,0.2],[5.375,0.3],[5.55,1.0]];

// ---------------------------------------------------------------------
const CROSS = 'path://M10.5,0 H13.5 V10.5 H24 V13.5 H13.5 V24 H10.5 V13.5 H0 V10.5 H10.5 Z';

const SPEC = {
  'Nikolov et al. 2016':     {color: '#ff00ff', marker: 'star',     face: 'none',    lw: 2.5},
  'Sing et al. 2016':        {color: '#00ffff', marker: 'tridown',  face: 'none',    lw: 2.5},
  'Feinstein et al. 2023':   {color: '#ff8c00', marker: 'triright', face: 'none',    lw: 2.5},
  'Alderson et al. 2023':    {color: '#ff00ff', marker: 'diamond',  face: '#ff00ff', lw: 3.2},
  'Rustamkulov et al. 2023': {color: '#808080', marker: 'plus',     face: '#808080', lw: 2.5},
  'Ahrer et al. 2023b':      {color: '#808000', marker: 'circle',   face: '#808000', lw: 2.5},
  'Wakeford et al. 2018':    {color: '#00ff00', marker: 'xcircle',  face: '#00ff00', lw: 2.5},
  'Ahrer et al. 2023a':      {color: '#008080', marker: 'circle',   face: '#008080', lw: 2.5},
  'Fischer et al. 2016':     {color: '#ff0000', marker: 'square',   face: 'none',    lw: 2.5}
};

function markerEls(kind, cx, cy, face) {
  const st = {stroke: '#000', lineWidth: 1.3, fill: face};
  if (kind === 'square') return [{type: 'rect', shape: {x: cx - 5.5, y: cy - 5.5, width: 11, height: 11}, style: st}];
  if (kind === 'circle') return [{type: 'circle', shape: {cx: cx, cy: cy, r: 5}, style: st}];
  if (kind === 'xcircle') {
    return [
      {type: 'circle', shape: {cx: cx, cy: cy, r: 5}, style: st},
      {type: 'line', shape: {x1: cx - 3.2, y1: cy - 3.2, x2: cx + 3.2, y2: cy + 3.2}, style: {stroke: '#000', lineWidth: 1.2}},
      {type: 'line', shape: {x1: cx - 3.2, y1: cy + 3.2, x2: cx + 3.2, y2: cy - 3.2}, style: {stroke: '#000', lineWidth: 1.2}}
    ];
  }
  let pts;
  if (kind === 'tridown') pts = [[cx - 6, cy - 4.5], [cx + 6, cy - 4.5], [cx, cy + 6]];
  else if (kind === 'triright') pts = [[cx - 4.5, cy - 6], [cx - 4.5, cy + 6], [cx + 6, cy]];
  else if (kind === 'diamond') pts = [[cx, cy - 6.5], [cx + 4.2, cy], [cx, cy + 6.5], [cx - 4.2, cy]];
  else if (kind === 'plus') {
    const a = 2, b = 5.2;
    pts = [[cx - a, cy - b], [cx + a, cy - b], [cx + a, cy - a], [cx + b, cy - a], [cx + b, cy + a], [cx + a, cy + a],
           [cx + a, cy + b], [cx - a, cy + b], [cx - a, cy + a], [cx - b, cy + a], [cx - b, cy - a], [cx - a, cy - a]];
  } else {
    pts = [];
    for (let k = 0; k < 10; k++) {
      const r = k % 2 ? 2.6 : 6, ang = -Math.PI / 2 + k * Math.PI / 5;
      pts.push([cx + r * Math.cos(ang), cy + r * Math.sin(ang)]);
    }
  }
  return [{type: 'polygon', shape: {points: pts}, style: st}];
}

function errRender(spec) {
  return function (params, api) {
    const x = api.value(0), y = api.value(1), xl = api.value(2), xr = api.value(3), ye = api.value(4);
    const c = api.coord([x, y]);
    const ls = {stroke: spec.color, lineWidth: spec.lw};
    const kids = [];
    if (xl > 0 || xr > 0) {
      const a = api.coord([x - xl, y]), b = api.coord([x + xr, y]);
      kids.push({type: 'line', shape: {x1: a[0], y1: a[1], x2: b[0], y2: b[1]}, style: ls});
    }
    if (ye > 0) {
      const a = api.coord([x, y - ye]), b = api.coord([x, y + ye]);
      kids.push({type: 'line', shape: {x1: a[0], y1: a[1], x2: b[0], y2: b[1]}, style: ls});
    }
    markerEls(spec.marker, c[0], c[1], spec.face).forEach(el => kids.push(el));
    return {type: 'group', children: kids};
  };
}

function errSeries(name, rows, g) {
  const spec = SPEC[name];
  return {
    type: 'custom', name: name, xAxisIndex: g, yAxisIndex: g, clip: true, z: 2,
    itemStyle: {color: spec.color}, encode: {x: 0, y: 1},
    data: rows.map(r => [r[0], r[1], r[2], r.length > 4 ? r[4] : r[2], r[3]]),
    renderItem: errRender(spec)
  };
}

function modelSeries(wave, nominal, noHaze, noCloud, g) {
  return [['Nominal case', nominal, '#0072B2'], ['No haze model', noHaze, '#009E73'], ['No cloud model', noCloud, '#D55E00']]
    .map(([name, vals, color]) => ({
      type: 'line', name: name, xAxisIndex: g, yAxisIndex: g, z: 5, clip: true,
      showSymbol: false, symbol: 'none', smooth: false,
      lineStyle: {color: color, width: 3}, itemStyle: {color: color},
      data: wave.map((w, i) => [w, vals[i]])
    }));
}

function residualSeries(rows, g) {
  const dotted = {color: '#000', width: 3, type: [3, 5]};
  return {
    type: 'scatter', xAxisIndex: g, yAxisIndex: g, z: 3, data: rows,
    symbol: 'circle', symbolSize: 6.5,
    itemStyle: {color: 'rgba(255,255,255,0)', borderColor: '#1f6fb4', borderWidth: 1.7},
    markLine: {
      silent: true, symbol: 'none', label: {show: false}, z: 2,
      data: [
        {yAxis: 0, lineStyle: {color: '#000', width: 3, type: 'solid'}},
        {yAxis: 3, lineStyle: dotted},
        {yAxis: -3, lineStyle: dotted}
      ]
    }
  };
}

function steps(a, b, step) {
  const out = [], n = Math.round((b - a) / step);
  for (let i = 0; i <= n; i++) out.push(+(a + i * step).toFixed(6));
  return out;
}

function axis(g, min, max, lines, labels, fmt, extra) {
  return Object.assign({
    type: 'value', gridIndex: g, min: min, max: max,
    axisLine: {show: false},
    axisTick: {show: false, customValues: lines},
    splitLine: {show: true, lineStyle: {color: '#e3e3e3', width: 1}},
    axisLabel: labels ? {show: true, customValues: labels, formatter: fmt, color: '#111', fontSize: 17, fontFamily: FONT, margin: 8}
                      : {show: false}
  }, extra || {});
}

const fx1 = v => v.toFixed(1);
const minus1 = v => v.toFixed(1).replace('-', '\u2212');
const minus0 = v => String(v).replace('-', '\u2212');

function rpName(gap) {
  return {
    name: '{i|R}{s|P}{i|/R}{s|*}', nameLocation: 'middle', nameRotate: 90, nameGap: gap, nameMoveOverlap: false,
    nameTextStyle: {rich: {
      i: {fontSize: 19, fontStyle: 'italic', fontFamily: FONT, color: '#111', lineHeight: 24, verticalAlign: 'middle'},
      s: {fontSize: 13, fontStyle: 'italic', fontFamily: FONT, color: '#111', lineHeight: 13, verticalAlign: 'bottom'}
    }}
  };
}
const resName = {
  name: 'Residual', nameLocation: 'middle', nameRotate: 90, nameGap: 47, nameMoveOverlap: false,
  nameTextStyle: {fontSize: 18, fontFamily: FONT, color: '#111'}
};

const LEFT = 97, WIDTH = 1123;
const gridStyle = {show: true, borderColor: '#808080', borderWidth: 1, backgroundColor: 'rgba(0,0,0,0)'};

function topLegend(name, left, top) {
  return {
    data: [{name: name, icon: CROSS}], left: left, top: top, padding: 0,
    itemWidth: 26, itemHeight: 22, selectedMode: false,
    textStyle: {fontSize: 17.5, fontFamily: FONT, color: '#111'}
  };
}

const series = [].concat(
  errSeries('Fischer et al. 2016', fischerP1, 0),
  errSeries('Sing et al. 2016', singP1, 0),
  errSeries('Nikolov et al. 2016', nikolovP1, 0),
  errSeries('Rustamkulov et al. 2023', rustamP1, 0),
  errSeries('Feinstein et al. 2023', feinsteinP1, 0),
  errSeries('Wakeford et al. 2018', wakefordP1, 0),
  modelSeries(p1Wave, p1Nominal, p1NoHaze, p1NoCloud, 0),
  residualSeries(resP1, 1),
  errSeries('Rustamkulov et al. 2023', rustamP2, 2),
  errSeries('Wakeford et al. 2018', wakefordP2, 2),
  errSeries('Feinstein et al. 2023', feinsteinP2, 2),
  modelSeries(p2Wave, p2Nominal, p2NoHaze, p2NoCloud, 2),
  residualSeries(resP2, 3),
  errSeries('Sing et al. 2016', singP3, 4),
  errSeries('Rustamkulov et al. 2023', rustamP3, 4),
  errSeries('Feinstein et al. 2023', feinsteinP3, 4),
  errSeries('Ahrer et al. 2023b', ahrerBP3, 4),
  errSeries('Alderson et al. 2023', aldersonP3, 4),
  errSeries('Ahrer et al. 2023a', ahrerAP3, 4),
  modelSeries(p3Wave, p3Nominal, p3NoHaze, p3NoCloud, 4),
  residualSeries(resP3, 5)
);

const option = {
  animation: false,
  backgroundColor: '#fff',
  textStyle: {fontFamily: FONT},
  legend: [
    topLegend('Nikolov et al. 2016', 185, 4),
    topLegend('Sing et al. 2016', 400, 4),
    topLegend('Feinstein et al. 2023', 626, 4),
    topLegend('Alderson et al. 2023', 889, 4),
    topLegend('Rustamkulov et al. 2023', 54, 32),
    topLegend('Ahrer et al. 2023b', 318, 32),
    topLegend('Wakeford et al. 2018', 534, 32),
    topLegend('Ahrer et al. 2023a', 760, 32),
    topLegend('Fischer et al. 2016', 1024, 32),
    {
      data: ['Nominal case', 'No haze model', 'No cloud model'], orient: 'vertical',
      left: 918, top: 64, padding: 0, itemGap: 8.5, itemWidth: 99, itemHeight: 3, icon: 'rect',
      selectedMode: false, textStyle: {fontSize: 17.5, fontFamily: FONT, color: '#111'}
    }
  ],
  grid: [
    Object.assign({left: LEFT, width: WIDTH, top: 55, height: 204}, gridStyle),
    Object.assign({left: LEFT, width: WIDTH, top: 267, height: 69}, gridStyle),
    Object.assign({left: LEFT, width: WIDTH, top: 364, height: 208}, gridStyle),
    Object.assign({left: LEFT, width: WIDTH, top: 579, height: 69}, gridStyle),
    Object.assign({left: LEFT, width: WIDTH, top: 677, height: 209}, gridStyle),
    Object.assign({left: LEFT, width: WIDTH, top: 892, height: 70}, gridStyle)
  ],
  xAxis: [
    axis(0, 0.2868, 1.0379, steps(0.30, 1.02, 0.02), null),
    axis(1, 0.2868, 1.0379, steps(0.30, 1.02, 0.02), x1Ticks, fx1),
    axis(2, 0.9753, 2.2752, steps(1.0, 2.25, 0.05), null),
    axis(3, 0.9753, 2.2752, steps(1.0, 2.25, 0.05), x2Ticks, fx1),
    axis(4, 2.2197, 5.729, steps(2.3, 5.7, 0.1), null),
    axis(5, 2.2197, 5.729, steps(2.3, 5.7, 0.1), x3Ticks, fx1, {
      name: '{n|Wavelength (}{i|\u03bcm}{n|)}', nameLocation: 'middle', nameGap: 22,
      nameTextStyle: {rich: {
        n: {fontSize: 18, fontFamily: FONT, color: '#111'},
        i: {fontSize: 18, fontFamily: FONT, fontStyle: 'italic', color: '#111'}
      }}
    })
  ],
  yAxis: [
    axis(0, 0.14025, 0.15322, steps(0.141, 0.153, 0.001), y1Ticks, v => v.toFixed(3), rpName(55)),
    axis(1, -4.95, 9.3, steps(-4, 9, 1), r1Ticks, minus0, resName),
    axis(2, 0.14303, 0.14874, steps(0.1435, 0.1485, 0.0005), y2Ticks, v => v.toFixed(3), rpName(55)),
    axis(3, -5.14, 6.56, steps(-5, 6, 1), r2Ticks, minus0, resName),
    axis(4, 0.14159, 0.15201, steps(0.142, 0.152, 0.0005), y3Ticks, v => v.toFixed(4), rpName(66)),
    axis(5, -4.98, 3.67, steps(-4.5, 3.5, 0.5), r3Ticks, minus1, resName)
  ],
  series: series
};

const chart = echarts.init(document.getElementById('chart'), null, {renderer: 'canvas'});
chart.setOption(option);
</script>
</body>
</html>
